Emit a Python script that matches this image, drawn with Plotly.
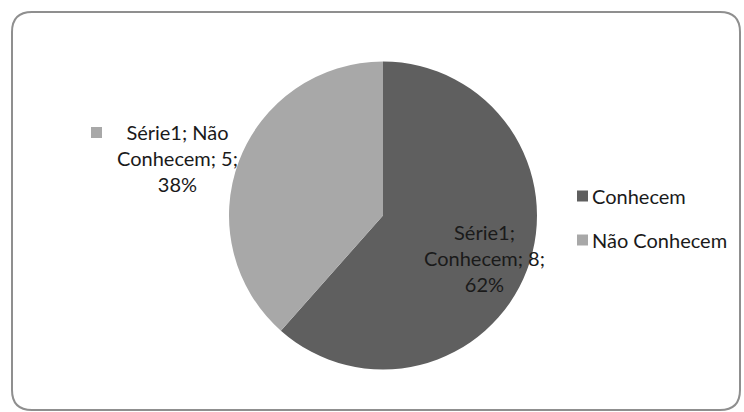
import re
import plotly.graph_objects as go

# Data
series_name = "Série1"
categories = ["Conhecem", "Não Conhecem"]
values = [8, 5]
colors = ["#5f5f5f", "#a8a8a8"]

W, H = 744, 412
FONT = "Lato, 'Open Sans', sans-serif"
FSIZE = 20
TXT = "#1a1a1a"

total = sum(values)
pcts = [round(v / total * 100) for v in values]


def px(x):
    return x / W


def py(y):
    return 1 - y / H


fig = go.Figure()

# pie centred at (383, 215.5) px, radius ~154 px
cx, cy, r = 383, 215.5, 154
fig.add_trace(go.Pie(
    labels=categories,
    values=values,
    sort=False,
    direction="clockwise",
    rotation=0,
    marker=dict(colors=colors, line=dict(width=0)),
    textinfo="none",
    hoverinfo="label+value+percent",
    showlegend=False,
    domain=dict(x=[px(cx - r), px(cx + r)], y=[py(cy + r), py(cy - r)]),
))

annotations = []
shapes = []

# data label for "Conhecem" (inside the dark slice)
annotations.append(dict(
    x=px(484), y=py(258), xref="paper", yref="paper",
    text=f"{series_name};<br>{categories[0]}; {values[0]};<br>{pcts[0]}%",
    showarrow=False, xanchor="center", yanchor="middle", align="center",
    font=dict(family=FONT, size=FSIZE, color=TXT),
))

# data label for "Não Conhecem" (outside, with legend key)
nao, conhecem_word = categories[1].split(" ", 1)
annotations.append(dict(
    x=px(177), y=py(158), xref="paper", yref="paper",
    text=f"{series_name}; {nao}<br>{conhecem_word}; {values[1]};<br>{pcts[1]}%",
    showarrow=False, xanchor="center", yanchor="middle", align="center",
    font=dict(family=FONT, size=FSIZE, color=TXT),
))
shapes.append(dict(type="rect", xref="paper", yref="paper",
                   x0=px(91), x1=px(102), y0=py(138), y1=py(127),
                   fillcolor=colors[1], line=dict(width=0)))

# legend
leg_rows = [196, 240]
for i, cat in enumerate(categories):
    yc = leg_rows[i]
    shapes.append(dict(type="rect", xref="paper", yref="paper",
                       x0=px(577), x1=px(588), y0=py(yc + 5.5), y1=py(yc - 5.5),
                       fillcolor=colors[i], line=dict(width=0)))
    annotations.append(dict(
        x=px(590), y=py(yc), xref="paper", yref="paper",
        text=cat, showarrow=False, xanchor="left", yanchor="middle",
        font=dict(family=FONT, size=FSIZE, color=TXT),
    ))

# rounded chart border
x0, y0, x1, y1, rr = 12, 12, 740, 410, 20
path = (f"M {x0 + rr},{y0} L {x1 - rr},{y0} Q {x1},{y0} {x1},{y0 + rr} "
        f"L {x1},{y1 - rr} Q {x1},{y1} {x1 - rr},{y1} "
        f"L {x0 + rr},{y1} Q {x0},{y1} {x0},{y1 - rr} "
        f"L {x0},{y0 + rr} Q {x0},{y0} {x0 + rr},{y0} Z")


def conv(m):
    a, b = float(m.group(1)), float(m.group(2))
    return f"{px(a):.5f},{py(b):.5f}"


paper_path = re.sub(r"([\d.]+),([\d.]+)", conv, path)
shapes.append(dict(type="path", xref="paper", yref="paper", path=paper_path,
                   line=dict(color="#8f8f8f", width=2), fillcolor="rgba(0,0,0,0)"))

fig.update_layout(
    width=W, height=H,
    margin=dict(l=0, r=0, t=0, b=0),
    paper_bgcolor="white",
    plot_bgcolor="white",
    annotations=annotations,
    shapes=shapes,
    showlegend=False,
)

fig.write_html("out.html")
